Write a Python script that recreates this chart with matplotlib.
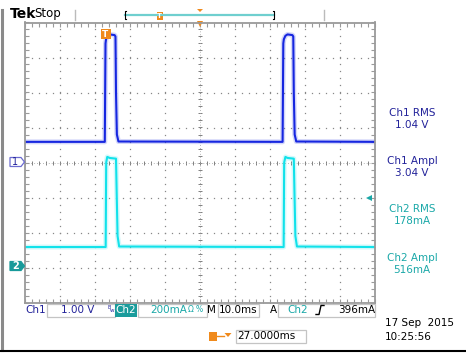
import matplotlib
matplotlib.use("Agg")
import matplotlib.pyplot as plt
from matplotlib.patches import Rectangle, Polygon
import numpy as np

W, H = 466, 354

# scope settings
time_per_div = 10.0      # ms/div
delay_ms = 27.0          # trigger to screen centre
ch1_scale = 1.0          # V/div
ch2_scale = 200.0        # mA/div
ch1_ground_div = 0.0
ch2_ground_div = -3.0
trigger_level_ma = 396.0

# waveforms, time in ms from trigger
ch1_time_ms = [-23.0, -0.2, 0.0, 0.15, 0.6, 1.2, 2.6, 2.85, 3.0, 3.25, 3.7,
               50.6, 50.8, 50.95, 51.4, 52.0, 53.4, 53.65, 53.8, 54.05, 54.5, 77.0]
ch1_volts = [0.59, 0.59, 3.40, 3.52, 3.62, 3.66, 3.64, 3.60, 2.00, 0.80, 0.60,
             0.59, 3.40, 3.52, 3.62, 3.66, 3.64, 3.60, 2.00, 0.80, 0.60, 0.59]

ch2_time_ms = [-23.0, 0.05, 0.2, 0.5, 1.2, 3.0, 3.2, 3.45, 3.9,
               50.9, 51.05, 51.4, 52.0, 53.8, 54.0, 54.25, 54.7, 77.0]
ch2_milliamps = [117, 117, 600, 632, 626, 622, 420, 180, 120,
                 117, 600, 632, 626, 622, 420, 180, 120, 117]

measurements = [("Ch1 RMS", "1.04 V"), ("Ch1 Ampl", "3.04 V"),
                ("Ch2 RMS", "178mA"), ("Ch2 Ampl", "516mA")]

CH1_TRACE = "#1626e0"
CH2_TRACE = "#12e2ea"
CH1_TEXT = "#22229a"
CH2_TEXT = "#1aa8a8"
GRID = "#9a9a9a"
ORANGE = "#f08a1c"

plt.rcParams["font.family"] = ["DejaVu Sans"]

fig = plt.figure(figsize=(W / 100, H / 100), dpi=100)
fig.patch.set_facecolor("white")

# --- graticule ---
x0 = delay_ms - 5 * time_per_div
x1 = delay_ms + 5 * time_per_div
ax = fig.add_axes([25 / W, (H - 302.5) / H, 350 / W, 280 / H])
ax.set_zorder(1)
ax.set_xlim(x0, x1)
ax.set_ylim(-4, 4)
for s in ax.spines.values():
    s.set_color(GRID)
    s.set_linewidth(1.3)
minor = time_per_div / 5
ax.set_xticks(np.arange(x0, x1 + 0.01, minor))
ax.set_yticks(np.arange(-4, 4.01, 0.2))
ax.tick_params(direction="in", length=3, width=0.8, color=GRID,
               top=True, right=True, labelleft=False, labelbottom=False)

# dotted major gridlines
dot_y = np.arange(-4, 4.01, 0.2)
dot_x = np.arange(x0, x1 + 0.01, minor)
for k in range(1, 10):
    if k == 5:
        continue
    xv = x0 + k * time_per_div
    ax.plot(np.full_like(dot_y, xv), dot_y, ls="none", marker="s", ms=0.9,
            color="#888888", mew=0)
for k in range(-3, 4):
    if k == 0:
        continue
    ax.plot(dot_x, np.full_like(dot_x, k), ls="none", marker="s", ms=0.9,
            color="#888888", mew=0)
# centre lines with cross ticks
xc = delay_ms
ax.plot(dot_x, np.zeros_like(dot_x), ls="none", marker="|", ms=3.5, mew=0.7,
        color="#808080")
ax.plot(np.full_like(dot_y, xc), dot_y, ls="none", marker="_", ms=3.5, mew=0.7,
        color="#808080")
ax.axhline(0, color="#a0a0a0", lw=0.6, ls=(0, (1, 2.5)))
ax.axvline(xc, color="#a0a0a0", lw=0.6, ls=(0, (1, 2.5)))

# --- traces ---
ch1_div = np.array(ch1_volts) / ch1_scale + ch1_ground_div
ch2_div = np.array(ch2_milliamps) / ch2_scale + ch2_ground_div
for t, d, c in [(ch1_time_ms, ch1_div, CH1_TRACE), (ch2_time_ms, ch2_div, CH2_TRACE)]:
    ax.plot(t, d, color=c, lw=3.6, alpha=0.18, solid_joinstyle="round")
    ax.plot(t, d, color=c, lw=1.5, solid_joinstyle="round")

# trigger level arrow (right edge)
trig_div = trigger_level_ma / ch2_scale + ch2_ground_div
ax.plot([x1 - 1.6], [trig_div], marker="<", ms=5, color=CH2_TEXT, mew=0, clip_on=False)
# trigger position marker on top edge
ax.plot([xc], [4 - 0.05], marker="v", ms=5, color=ORANGE, mew=0, clip_on=False)

# --- overlay for the screen furniture ---
ov = fig.add_axes([0, 0, 1, 1])
ov.set_zorder(2)
ov.patch.set_alpha(0)
ov.set_xlim(0, W)
ov.set_ylim(H, 0)
ov.axis("off")

# frame of the screenshot
ov.plot([2, 2], [10, 350], color="#8a8a8a", lw=2.2)
ov.plot([0, W], [350.5, 350.5], color="black", lw=1.5)

# top bar
ov.text(10, 14, "Tek", fontsize=10, fontweight="bold", va="center", ha="left")
ov.text(34, 14, "Stop", fontsize=8.5, va="center", ha="left")
ov.plot([75, 75], [10, 20], color="#bbbbbb", lw=1)
ov.plot([324, 324], [10, 20], color="#bbbbbb", lw=1)
ov.plot([125, 274], [14.5, 14.5], color="#6fcfcf", lw=1.6)
ov.plot([126, 125, 125, 126], [10.5, 10.5, 19, 19], color="black", lw=0.8)
ov.plot([273, 274, 274, 273], [10.5, 10.5, 19, 19], color="black", lw=0.8)
ov.add_patch(Rectangle((156.5, 11.5), 6, 8, color=ORANGE, lw=0))
ov.text(159.5, 15.6, "T", fontsize=5, color="white", ha="center", va="center",
        fontweight="bold")
ov.add_patch(Polygon([[197, 9], [203, 9], [200, 12]], color=ORANGE, lw=0))

# trigger 'T' marker in graticule
ov.add_patch(Rectangle((100.5, 29), 10, 10, color=ORANGE, lw=0))
ov.text(105.5, 34.3, "T", fontsize=6.5, color="white", ha="center", va="center",
        fontweight="bold")

# channel ground markers
ov.add_patch(Polygon([[10, 157.5], [21, 157.5], [24.5, 162], [21, 166.5], [10, 166.5]],
                     facecolor="white", edgecolor="#6b6bd0", lw=0.9))
ov.text(15.5, 162.3, "1", fontsize=7, color=CH1_TEXT, ha="center", va="center")
ov.add_patch(Polygon([[10, 261.5], [21, 261.5], [24.5, 266], [21, 270.5], [10, 270.5]],
                     facecolor="#189a9a", edgecolor="#189a9a", lw=0.9))
ov.text(15.5, 266.3, "2", fontsize=7, color="white", ha="center", va="center",
        fontweight="bold")

# measurements
meas_y = [113, 161, 209.5, 258]
for (name, val), yy in zip(measurements, meas_y):
    col = CH1_TEXT if name.startswith("Ch1") else CH2_TEXT
    ov.text(412, yy, name, fontsize=7.5, color=col, ha="center", va="center")
    ov.text(412, yy + 12, val, fontsize=7.5, color=col, ha="center", va="center")

# bottom status row
box_kw = dict(facecolor="none", edgecolor="#c4c4c4", lw=0.9)
by = 310
ov.text(25, by, "Ch1", fontsize=7.5, color=CH1_TEXT, ha="left", va="center")
ov.add_patch(Rectangle((46.5, 303.5), 68.5, 13, **box_kw))
ov.text(94, by, "1.00 V", fontsize=7.5, color=CH1_TEXT, ha="right", va="center")
ov.text(107, by - 2.5, "B", fontsize=3.5, color=CH1_TEXT, ha="left", va="center")
ov.text(109.5, by, "w", fontsize=4, color=CH1_TEXT, ha="left", va="center")
ov.add_patch(Rectangle((115, 303.5), 22, 13, color="#1a9c9c", lw=0))
ov.text(126, by, "Ch2", fontsize=7.5, color="white", ha="center", va="center")
ov.add_patch(Rectangle((138, 303.5), 68.5, 13, **box_kw))
ov.text(187, by, "200mA", fontsize=7.5, color=CH2_TEXT, ha="right", va="center")
ov.text(188, by, "Ω", fontsize=5.5, color=CH2_TEXT, ha="left", va="center")
ov.text(196, by, "%", fontsize=5.5, color=CH2_TEXT, ha="left", va="center")
ov.text(207, by, "M", fontsize=7.5, color="black", ha="left", va="center")
ov.add_patch(Rectangle((217.5, 303.5), 41.5, 13, **box_kw))
ov.text(219, by, "10.0ms", fontsize=7.5, color="black", ha="left", va="center")
ov.text(270, by, "A", fontsize=7.5, color="black", ha="left", va="center")
ov.add_patch(Rectangle((278, 303.5), 97, 13, **box_kw))
ov.text(287, by, "Ch2", fontsize=7.5, color=CH2_TEXT, ha="left", va="center")
ov.plot([316, 319, 321, 324], [314.5, 314.5, 305.5, 305.5], color="black", lw=1)
ov.text(375, by, "396mA", fontsize=7.5, color="black", ha="right", va="center")

# delay row
ov.add_patch(Rectangle((209, 332), 8, 8.5, color=ORANGE, lw=0))
ov.plot([217, 224], [336, 336], color=ORANGE, lw=1)
ov.add_patch(Polygon([[224.5, 333], [231.5, 333], [228, 337]], color=ORANGE, lw=0))
ov.add_patch(Rectangle((235.5, 330), 70.5, 12.5, **box_kw))
ov.text(237.5, 336.3, "27.0000ms", fontsize=7.5, color="black", ha="left", va="center")

# date/time
ov.text(385, 323.5, "17 Sep  2015", fontsize=7.5, color="black", ha="left", va="center")
ov.text(385, 336.5, "10:25:56", fontsize=7.5, color="black", ha="left", va="center")

fig.savefig("out.png", dpi=100, facecolor="white")
